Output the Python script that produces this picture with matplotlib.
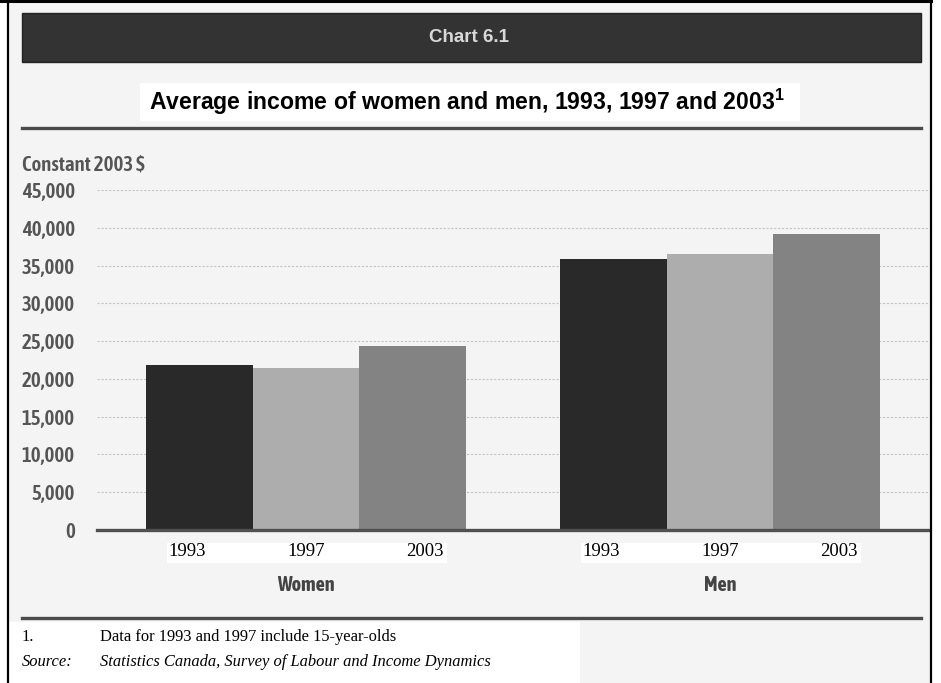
import matplotlib
matplotlib.use("Agg")
import matplotlib.pyplot as plt
from matplotlib.patches import Rectangle
from matplotlib.lines import Line2D
import numpy as np

# ---- data ----
groups = ["Women", "Men"]
years = ["1993", "1997", "2003"]
income_1993 = [21800, 35900]
income_1997 = [21500, 36500]
income_2003 = [24400, 39150]
yticks = [0, 5000, 10000, 15000, 20000, 25000, 30000, 35000, 40000, 45000]
ytick_labels = ["0", "5,000", "10,000", "15,000", "20,000", "25,000",
                "30,000", "35,000", "40,000", "45,000"]

W, H = 941, 683
fig = plt.figure(figsize=(W / 100, H / 100), dpi=100)
fig.patch.set_facecolor("white")

def fx(x):
    return x / W

def fy(y):
    return 1 - y / H

def frect(x0, y0, x1, y1, **kw):
    r = Rectangle((fx(x0), fy(y1)), fx(x1) - fx(x0), fy(y0) - fy(y1),
                  transform=fig.transFigure, **kw)
    fig.patches.append(r)
    return r

def fline(x0, y0, x1, y1, **kw):
    fig.lines.append(Line2D([fx(x0), fx(x1)], [fy(y0), fy(y1)],
                            transform=fig.transFigure, **kw))

narrow = ["Asap Condensed", "DejaVu Sans"]
sans = ["Liberation Sans", "DejaVu Sans"]
serif = ["Liberation Serif", "DejaVu Serif"]

# page background and frame
frect(8, 0, 930, H, facecolor="#f4f4f4", edgecolor="none", zorder=-5)
fline(0, 1, 931, 1, color="black", lw=2.2, zorder=5)
fline(7.5, 0, 7.5, H, color="black", lw=1.6, zorder=5)
fline(930.5, 0, 930.5, H, color="black", lw=1.6, zorder=5)

# header band
frect(22, 13, 921, 62, facecolor="#333333", edgecolor="#222222", lw=1, zorder=1)
fig.text(fx(469), fy(38), "Chart 6.1", ha="center", va="center",
         color="#d8d8d8", fontsize=13.5, fontweight="bold", family=sans, zorder=2)

# title
plt.rcParams["mathtext.fontset"] = "custom"
plt.rcParams["mathtext.bf"] = "Liberation Sans:bold"
plt.rcParams["mathtext.rm"] = "Liberation Sans:bold"
frect(140, 83, 800, 121, facecolor="white", edgecolor="none", zorder=1)
fig.text(fx(467), fy(102), r"Average income of women and men, 1993, 1997 and 2003$^{\mathbf{1}}$",
         ha="center", va="center", color="black", fontsize=16.6, fontweight="bold",
         family=sans, zorder=2)

# rules
fline(22, 128, 921, 128, color="#4a4a4a", lw=2.4, zorder=2)
fline(22, 618, 921, 618, color="#4a4a4a", lw=2.4, zorder=2)

fig.text(fx(22), fy(164), "Constant 2003 $", ha="left", va="center",
         color="#555555", fontsize=15, fontweight="semibold", family=narrow)

# ---- axes ----
ax = fig.add_axes([fx(97), fy(530), fx(929) - fx(97), fy(190) - fy(530)])
ax.set_zorder(3)
ax.set_facecolor("none")
ax.set_ylim(0, 45000)
ax.set_xlim(-0.505, 1.505)

x = np.arange(len(groups))
bw = 0.257
colors = ["#292929", "#adadad", "#838383"]
series = [income_1993, income_1997, income_2003]
for i, (vals, c) in enumerate(zip(series, colors)):
    ax.bar(x + (i - 1) * bw, vals, width=bw, color=c, edgecolor="none", zorder=3)

ax.set_yticks(yticks)
ax.set_yticklabels(ytick_labels)
for lab in ax.get_yticklabels():
    lab.set_family(narrow)
    lab.set_fontweight("semibold")
    lab.set_fontsize(15)
    lab.set_color("#555555")
ax.tick_params(axis="y", length=0, pad=16)
ax.set_xticks([])
for s in ["top", "right", "left"]:
    ax.spines[s].set_visible(False)
ax.spines["bottom"].set_color("#505050")
ax.spines["bottom"].set_linewidth(2.4)
ax.spines["bottom"].set_zorder(4)
ax.yaxis.grid(True, color="#c4c4c4", linestyle=(0, (2, 1.5)), linewidth=0.8, zorder=1)
ax.set_axisbelow(True)

# year labels on white boxes
lab_step = 0.287
for g in x:
    xs = [g + (i - 1) * lab_step for i in range(len(years))]
    x0d = ax.transData.transform((xs[0], 0))[0]
    x2d = ax.transData.transform((xs[-1], 0))[0]
    frect(x0d - 20, 543, x2d + 22, 563, facecolor="white", edgecolor="none", zorder=1)
    for xv, yr in zip(xs, years):
        ax.text(xv, -(552 - 530) / (530 - 190), yr, transform=ax.get_xaxis_transform(),
                ha="center", va="center", fontsize=13.5, family=serif,
                color="black", zorder=5)
for g, name in zip(x, groups):
    ax.text(g, -(585 - 530) / (530 - 190), name, transform=ax.get_xaxis_transform(),
            ha="center", va="center", fontsize=14.5, fontweight="bold", family=narrow,
            color="#444444")

# footnotes
frect(8, 622, 580, H, facecolor="white", edgecolor="none", zorder=1)
fig.text(fx(22), fy(637), "1.", ha="left", va="center", fontsize=11.9, family=serif)
fig.text(fx(100), fy(637), "Data for 1993 and 1997 include 15-year-olds",
         ha="left", va="center", fontsize=11.9, family=serif)
fig.text(fx(22), fy(662), "Source:", ha="left", va="center", fontsize=11.9,
         family=serif, style="italic")
fig.text(fx(100), fy(662), "Statistics Canada, Survey of Labour and Income Dynamics",
         ha="left", va="center", fontsize=11.9, family=serif, style="italic")

fig.savefig("out.png", dpi=100, facecolor=fig.get_facecolor())
